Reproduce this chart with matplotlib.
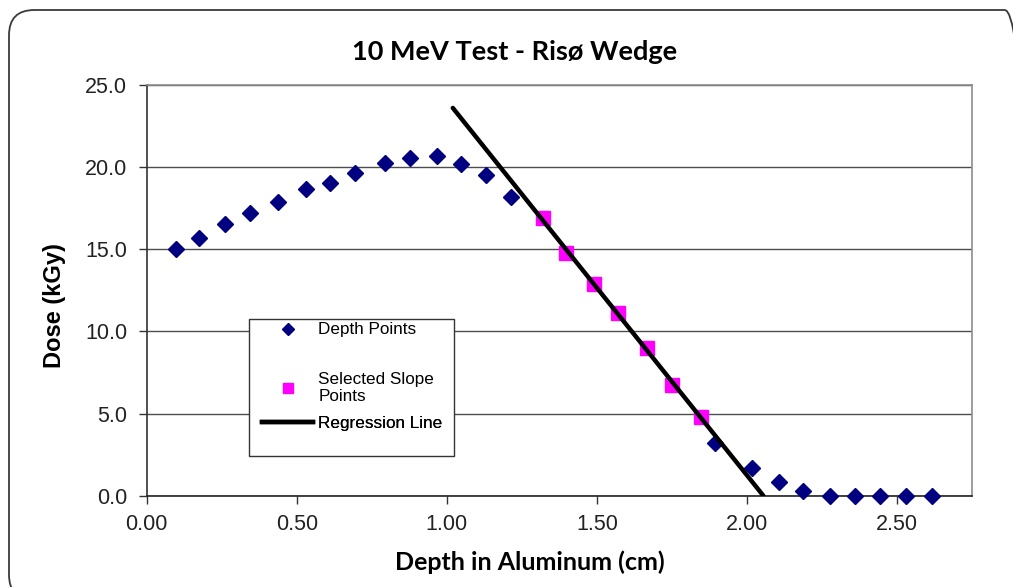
import numpy as np
import matplotlib
matplotlib.use("Agg")
import matplotlib.pyplot as plt
from matplotlib.patches import FancyBboxPatch, Rectangle
from matplotlib.lines import Line2D
from matplotlib.ticker import FormatStrFormatter, MultipleLocator

# ---- data ----
depth_x = [0.098, 0.175, 0.262, 0.344, 0.438, 0.532, 0.610, 0.694, 0.795,
           0.878, 0.968, 1.046, 1.129, 1.214,
           1.893, 2.016, 2.106, 2.186, 2.276, 2.361, 2.443, 2.530, 2.617]
depth_y = [15.00, 15.67, 16.52, 17.19, 17.86, 18.69, 19.05, 19.64, 20.25,
           20.55, 20.69, 20.17, 19.50, 18.16,
           3.23, 1.69, 0.81, 0.30, 0.0, 0.0, 0.0, 0.0, 0.0]
slope_x = [1.321, 1.396, 1.490, 1.572, 1.666, 1.750, 1.847]
slope_y = [16.88, 14.79, 12.88, 11.10, 9.01, 6.76, 4.79]
reg_start_x = 1.02

title = "10 MeV Test - Risø Wedge"
xlabel = "Depth in Aluminum (cm)"
ylabel = "Dose (kGy)"
legend_labels = ["Depth Points", "Selected Slope\nPoints", "Regression Line"]

W, H = 1013, 587
fig = plt.figure(figsize=(W / 100, H / 100), dpi=100)

# outer rounded border
border = FancyBboxPatch((9 / W, 1 - 600 / H), (1030 - 9) / W, (600 - 10) / H,
                        boxstyle="round,pad=0,rounding_size=0.025",
                        transform=fig.transFigure, facecolor="none",
                        edgecolor="#3a3a3a", linewidth=1.3, zorder=0,
                        mutation_aspect=W / H)
fig.patches.append(border)

ax = fig.add_axes([146.7 / W, (H - 495.7) / H, 825.3 / W, 410.7 / H])
ax.set_facecolor("white")
ax.set_zorder(1)
ax.set_xlim(0, 2.75)
ax.set_ylim(0, 25)

tick_font = dict(family=["Liberation Sans", "DejaVu Sans"], size=15.5)
ax.xaxis.set_major_locator(MultipleLocator(0.5))
ax.yaxis.set_major_locator(MultipleLocator(5))
ax.xaxis.set_major_formatter(FormatStrFormatter("%.2f"))
ax.yaxis.set_major_formatter(FormatStrFormatter("%.1f"))
for lab in ax.get_xticklabels() + ax.get_yticklabels():
    lab.set_fontfamily(tick_font["family"])
    lab.set_fontsize(tick_font["size"])
ax.tick_params(axis="both", direction="out", length=6, width=1,
               color="#333333", labelcolor="#222222")
ax.tick_params(axis="x", pad=7)
ax.tick_params(axis="y", pad=8)

ax.grid(axis="y", color="#4d4d4d", linewidth=1.0)
ax.set_axisbelow(True)
ax.spines["left"].set_color("#333333")
ax.spines["bottom"].set_color("#222222")
ax.spines["right"].set_color("#8c8c8c")
ax.spines["top"].set_color("#8c8c8c")
for s in ax.spines.values():
    s.set_linewidth(1.2)

# data marks
ax.plot(depth_x, depth_y, linestyle="none", marker="D", markersize=8.5,
        color="#000080", zorder=3, clip_on=False)
ax.plot(slope_x, slope_y, linestyle="none", marker="s", markersize=10,
        color="#ff00ff", zorder=4)

m, b = np.polyfit(slope_x, slope_y, 1)
x_end = -b / m
xr = np.array([reg_start_x, x_end])
ax.plot(xr, m * xr + b, color="black", linewidth=3.2, zorder=5,
        solid_capstyle="round")

# legend frame
ax.add_patch(Rectangle((0.124, 0.097), 0.372 - 0.124, 0.430 - 0.097,
                       transform=ax.transAxes, facecolor="white",
                       edgecolor="#333333", linewidth=1.0, zorder=6))

handles = [
    Line2D([], [], linestyle="none", marker="D", markersize=6, color="#000080"),
    Line2D([], [], linestyle="none", marker="s", markersize=7, color="#ff00ff"),
    Line2D([], [], color="black", linewidth=3.2),
]
row_y = [0.4035, 0.262, 0.177]
leg_font = {"family": ["Liberation Sans", "DejaVu Sans"], "size": 12.3}
for h, lab, yy in zip(handles, legend_labels, row_y):
    lg = ax.legend([h], [lab], loc="center left", bbox_to_anchor=(0.1397, yy),
                   frameon=False, prop=leg_font, handlelength=3.0,
                   handletextpad=0.29, borderpad=0, borderaxespad=0,
                   labelspacing=0.2)
    lg.set_zorder(7)
    ax.add_artist(lg)

fig.text(515 / W, 1 - 52 / H, title, ha="center", va="center",
         fontsize=19.5, fontweight="bold", family=["Lato", "DejaVu Sans"])
fig.text(530 / W, 1 - 562 / H, xlabel, ha="center", va="center",
         fontsize=18, fontweight="bold", family=["Lato", "DejaVu Sans"])
fig.text(55 / W, 1 - 306 / H, ylabel, ha="center", va="center", rotation=90,
         fontsize=17, fontweight="bold", family=["Liberation Sans", "DejaVu Sans"])

fig.savefig("out.png", dpi=100)
